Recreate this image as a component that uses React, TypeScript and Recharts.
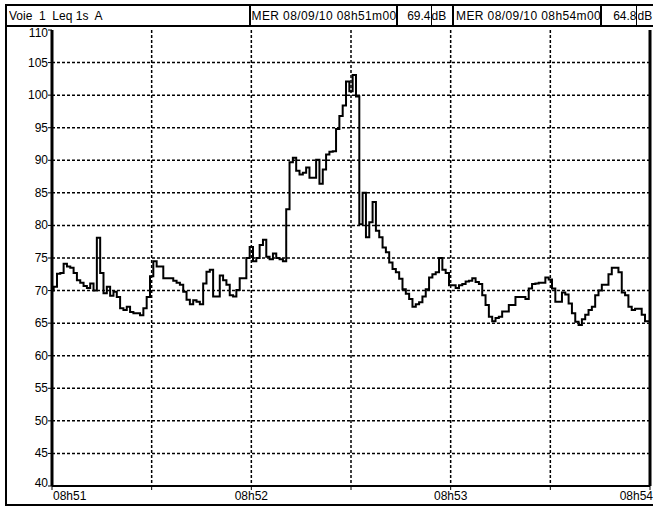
import * as React from 'react';
import { LineChart, Line, XAxis, YAxis, CartesianGrid, ReferenceLine } from 'recharts';

// Leq 1s, channel 1, dB(A) - one value per second from 08h51m00 to 08h54m00
const levels = [
  70, 70.6, 72.6, 72.7, 74.1, 73.7, 73.5, 72.7, 71.6, 71.2,
  70.7, 70.4, 71.1, 70, 78.1, 72.7, 69.6, 70.6, 69.2, 69.8,
  69, 67.3, 67, 67.5, 66.7, 66.5, 66.5, 66.2, 67.3, 69,
  72.2, 74.5, 73.7, 73.7, 71.9, 71.9, 71.9, 71.5, 71.2, 70.9,
  69.8, 68.6, 67.9, 68.5, 68.3, 67.9, 71.1, 72.9, 73.2, 69.1,
  69.1, 72.3, 71.6, 70.9, 69.3, 69.1, 70.1, 71.9, 71.9, 75,
  76.7, 74.5, 75, 77, 77.8, 75.2, 74.8, 75.7, 75, 74.8,
  74.5, 82.5, 89.7, 90.4, 88.4, 87.8, 88.1, 88.9, 87.3, 87.3,
  90.1, 86.4, 88.6, 90.9, 91.3, 91.4, 94.8, 96.8, 98.4, 102.1,
  100.6, 103.1, 99.8, 80.2, 85, 78.2, 80.5, 83.6, 79.2, 78.2,
  76.6, 75.9, 74.3, 73.3, 72.8, 71.8, 70.2, 69.5, 68.7, 67.5,
  67.9, 68.2, 69.1, 70.2, 72, 72.5, 72.8, 75, 73.2, 72.7,
  70.8, 70.8, 70.4, 70.8, 71, 71.4, 71.5, 71.9, 71.3, 71,
  69.3, 67.8, 66, 65.3, 65.8, 66, 66.8, 66.8, 67.8, 67.8,
  69, 69, 69, 68.7, 70.3, 71, 71.1, 71.2, 71.2, 72,
  71.7, 70.3, 68.3, 68.3, 69.7, 69.4, 68, 66.5, 65.2, 64.7,
  65.6, 66.3, 67, 67.5, 69.3, 70, 70.9, 70.9, 72.5, 73.5,
  73.5, 72.8, 69.7, 69.3, 67.5, 67, 67.2, 67.2, 66.3, 65.3,
  65.3,
];

const timeTicks = [0, 30, 60, 90, 120, 150, 180];
const timeLabels = ['08h51', '', '08h52', '', '08h53', '', '08h54'];
const levelTicks = [40, 45, 50, 55, 60, 65, 70, 75, 80, 85, 90, 95, 100, 105, 110];
const gridLevels = [45, 50, 55, 60, 65, 70, 75, 80, 85, 90, 95, 100, 105];
const gridTimes = [30, 60, 90, 120, 150];

const channelLabel = 'Voie  1  Leq 1s  A';
const startStamp = 'MER 08/09/10 08h51m00';
const startLevel = '69.4';
const endStamp = 'MER 08/09/10 08h54m00';
const endLevel = '64.8';
const unit = 'dB';

const data = levels.map((leq, t) => ({ t, leq }));

const FONT = '"Liberation Sans", Arial, sans-serif';

function LevelTick(props: any) {
  const { x, y, payload } = props;
  let dy = 4;
  if (payload.value === 110) dy = 7;
  if (payload.value === 40) dy = 1;
  return (
    <text x={x} y={y + dy} textAnchor="end" fontSize={12} fontFamily={FONT} fill="#000">
      {payload.value}
    </text>
  );
}

function TimeTick(props: any) {
  const { x, y, index } = props;
  const label = timeLabels[index];
  if (!label) return null;
  let anchor = 'middle';
  let px = x;
  if (index === 0) { anchor = 'start'; px = x + 1; }
  if (index === timeTicks.length - 1) { anchor = 'end'; px = 653; }
  return (
    <text x={px} y={y + 10} textAnchor={anchor} fontSize={12} fontFamily={FONT} fill="#000">
      {label}
    </text>
  );
}

const cell: React.CSSProperties = {
  position: 'absolute', top: 5, height: 20, lineHeight: '22px', fontSize: 12,
  fontFamily: FONT, whiteSpace: 'pre', overflow: 'hidden', color: '#000',
};

function Header() {
  const vline = (x: number, w: number) => (
    <div style={{ position: 'absolute', left: x - w / 2, top: 5, width: w, height: 21, background: '#000' }} />
  );
  return (
    <>
      <div style={{ position: 'absolute', left: 5, top: 4, width: 700, height: 502, border: '2px solid #000', boxSizing: 'border-box' }} />
      <div style={{ position: 'absolute', left: 5, top: 25, width: 700, height: 2, background: '#000' }} />
      <div style={{ ...cell, left: 9, width: 230 }}>{channelLabel}</div>
      <div style={{ ...cell, left: 251.5, width: 144, letterSpacing: 0.4 }}>{startStamp}</div>
      <div style={{ ...cell, left: 398, width: 32.5, textAlign: 'right' }}>{startLevel}</div>
      <div style={{ ...cell, left: 431.5, width: 21 }}>{unit}</div>
      <div style={{ ...cell, left: 456, width: 144, letterSpacing: 0.4 }}>{endStamp}</div>
      <div style={{ ...cell, left: 602, width: 34.5, textAlign: 'right' }}>{endLevel}</div>
      <div style={{ ...cell, left: 637.5, width: 20 }}>{unit}</div>
      {vline(250, 2)}
      {vline(396.7, 2)}
      {vline(431, 1)}
      {vline(453, 2)}
      {vline(601, 2)}
      {vline(636.7, 1)}
    </>
  );
}

export default function App() {
  return (
    <div style={{ position: 'relative', width: 653, height: 507, overflow: 'hidden', background: '#fff' }}>
      <style>{'body{margin:0}'}</style>
      <div style={{ position: 'absolute', left: 0, top: 0 }}>
        <LineChart width={653} height={507} data={data} margin={{ top: 30, right: 3, bottom: 0, left: 0 }}>
          <CartesianGrid
            stroke="#000"
            strokeWidth={1.5}
            strokeDasharray="3 2"
            horizontalValues={gridLevels}
            verticalValues={gridTimes}
          />
          <XAxis
            dataKey="t"
            type="number"
            domain={[0, 180]}
            ticks={timeTicks}
            interval={0}
            height={21}
            axisLine={{ stroke: '#000', strokeWidth: 2 }}
            tickLine={{ stroke: '#000' }}
            tickSize={4}
            tickMargin={0}
            tick={<TimeTick />}
          />
          <YAxis
            type="number"
            domain={[40, 110]}
            ticks={levelTicks}
            interval={0}
            width={52}
            axisLine={{ stroke: '#000', strokeWidth: 3 }}
            tickLine={{ stroke: '#000' }}
            tickSize={4}
            tickMargin={0}
            tick={<LevelTick />}
          />
          <ReferenceLine x={180} stroke="#000" strokeWidth={3} />
          <Line
            type="step"
            dataKey="leq"
            stroke="#000"
            strokeWidth={2}
            dot={false}
            isAnimationActive={false}
          />
        </LineChart>
      </div>
      <Header />
    </div>
  );
}
